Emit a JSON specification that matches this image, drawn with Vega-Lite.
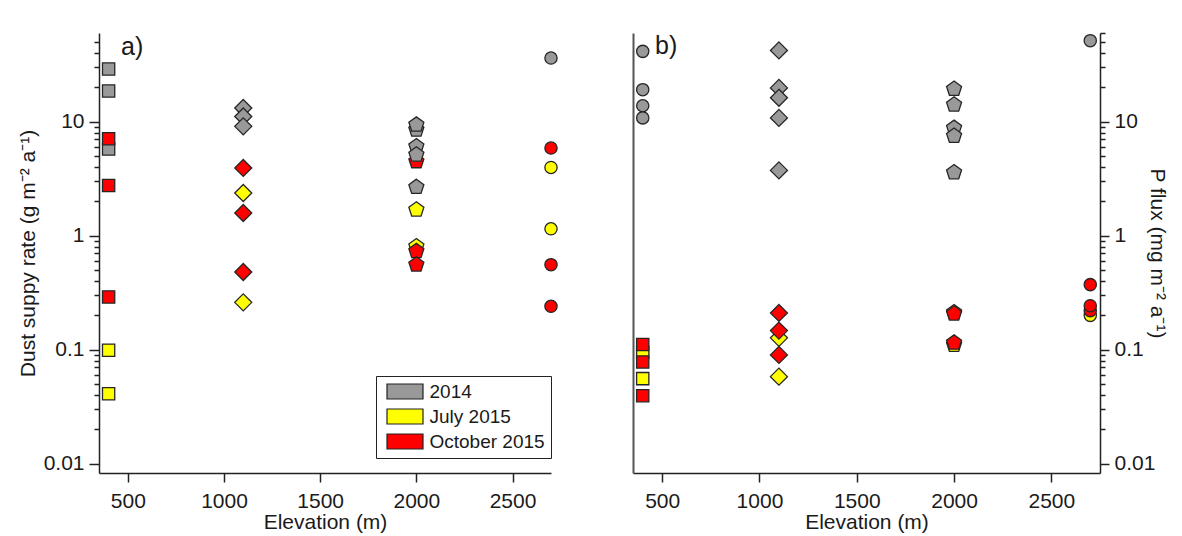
{
  "$schema": "https://vega.github.io/schema/vega-lite/v6.json",
  "padding": {"left": 17, "top": 31, "right": 5, "bottom": 5},
  "background": "white",
  "config": {
    "view": {"stroke": null},
    "font": "Liberation Sans",
    "axis": {
      "grid": false,
      "domainColor": "#222222",
      "domainWidth": 1.5,
      "tickColor": "#222222",
      "tickWidth": 1.5,
      "labelFont": "Liberation Sans",
      "labelFontSize": 21,
      "labelColor": "#1a1a1a",
      "titleFont": "Liberation Sans",
      "titleFontSize": 21,
      "titleFontWeight": "normal",
      "titleColor": "#1a1a1a"
    },
    "legend": {
      "labelFont": "Liberation Sans",
      "labelFontSize": 19,
      "labelColor": "#1a1a1a"
    },
    "title": {"font": "Liberation Sans", "fontWeight": "normal", "color": "#1a1a1a"}
  },
  "datasets": {
    "flux": [
      {"panel": "a", "elevation": 400, "period": "2014", "station": "S1", "value": 29},
      {"panel": "a", "elevation": 400, "period": "2014", "station": "S1", "value": 18.6},
      {"panel": "a", "elevation": 400, "period": "2014", "station": "S1", "value": 5.76},
      {"panel": "a", "elevation": 400, "period": "October 2015", "station": "S1", "value": 7.1},
      {"panel": "a", "elevation": 400, "period": "October 2015", "station": "S1", "value": 2.76},
      {"panel": "a", "elevation": 400, "period": "October 2015", "station": "S1", "value": 0.29},
      {"panel": "a", "elevation": 400, "period": "July 2015", "station": "S1", "value": 0.099},
      {"panel": "a", "elevation": 400, "period": "July 2015", "station": "S1", "value": 0.041},
      {"panel": "a", "elevation": 1100, "period": "2014", "station": "S2", "value": 13.2},
      {"panel": "a", "elevation": 1100, "period": "2014", "station": "S2", "value": 11.1},
      {"panel": "a", "elevation": 1100, "period": "2014", "station": "S2", "value": 9.1},
      {"panel": "a", "elevation": 1100, "period": "July 2015", "station": "S2", "value": 2.37},
      {"panel": "a", "elevation": 1100, "period": "July 2015", "station": "S2", "value": 0.26},
      {"panel": "a", "elevation": 1100, "period": "October 2015", "station": "S2", "value": 3.93},
      {"panel": "a", "elevation": 1100, "period": "October 2015", "station": "S2", "value": 1.58},
      {"panel": "a", "elevation": 1100, "period": "October 2015", "station": "S2", "value": 0.48},
      {"panel": "a", "elevation": 2000, "period": "October 2015", "station": "S3", "value": 4.49},
      {"panel": "a", "elevation": 2000, "period": "2014", "station": "S3", "value": 8.5},
      {"panel": "a", "elevation": 2000, "period": "2014", "station": "S3", "value": 9.4},
      {"panel": "a", "elevation": 2000, "period": "2014", "station": "S3", "value": 6.07},
      {"panel": "a", "elevation": 2000, "period": "2014", "station": "S3", "value": 5.13},
      {"panel": "a", "elevation": 2000, "period": "2014", "station": "S3", "value": 2.67},
      {"panel": "a", "elevation": 2000, "period": "July 2015", "station": "S3", "value": 1.69},
      {"panel": "a", "elevation": 2000, "period": "July 2015", "station": "S3", "value": 0.805},
      {"panel": "a", "elevation": 2000, "period": "October 2015", "station": "S3", "value": 0.73},
      {"panel": "a", "elevation": 2000, "period": "October 2015", "station": "S3", "value": 0.557},
      {"panel": "a", "elevation": 2700, "period": "2014", "station": "S4", "value": 36.2},
      {"panel": "a", "elevation": 2700, "period": "July 2015", "station": "S4", "value": 3.97},
      {"panel": "a", "elevation": 2700, "period": "July 2015", "station": "S4", "value": 1.15},
      {"panel": "a", "elevation": 2700, "period": "October 2015", "station": "S4", "value": 5.87},
      {"panel": "a", "elevation": 2700, "period": "October 2015", "station": "S4", "value": 0.557},
      {"panel": "a", "elevation": 2700, "period": "October 2015", "station": "S4", "value": 0.24},
      {"panel": "b", "elevation": 400, "period": "2014", "station": "S1c", "value": 41.4},
      {"panel": "b", "elevation": 400, "period": "2014", "station": "S1c", "value": 19.1},
      {"panel": "b", "elevation": 400, "period": "2014", "station": "S1c", "value": 13.8},
      {"panel": "b", "elevation": 400, "period": "2014", "station": "S1c", "value": 10.8},
      {"panel": "b", "elevation": 400, "period": "July 2015", "station": "S1", "value": 0.095},
      {"panel": "b", "elevation": 400, "period": "July 2015", "station": "S1", "value": 0.0557},
      {"panel": "b", "elevation": 400, "period": "October 2015", "station": "S1", "value": 0.111},
      {"panel": "b", "elevation": 400, "period": "October 2015", "station": "S1", "value": 0.078},
      {"panel": "b", "elevation": 400, "period": "October 2015", "station": "S1", "value": 0.0395},
      {"panel": "b", "elevation": 1100, "period": "2014", "station": "S2", "value": 42.2},
      {"panel": "b", "elevation": 1100, "period": "2014", "station": "S2", "value": 19.8},
      {"panel": "b", "elevation": 1100, "period": "2014", "station": "S2", "value": 16.2},
      {"panel": "b", "elevation": 1100, "period": "2014", "station": "S2", "value": 10.8},
      {"panel": "b", "elevation": 1100, "period": "2014", "station": "S2", "value": 3.74},
      {"panel": "b", "elevation": 1100, "period": "July 2015", "station": "S2", "value": 0.127},
      {"panel": "b", "elevation": 1100, "period": "July 2015", "station": "S2", "value": 0.058},
      {"panel": "b", "elevation": 1100, "period": "October 2015", "station": "S2", "value": 0.21},
      {"panel": "b", "elevation": 1100, "period": "October 2015", "station": "S2", "value": 0.147},
      {"panel": "b", "elevation": 1100, "period": "October 2015", "station": "S2", "value": 0.09},
      {"panel": "b", "elevation": 2000, "period": "2014", "station": "S3", "value": 19.4},
      {"panel": "b", "elevation": 2000, "period": "2014", "station": "S3", "value": 14.1},
      {"panel": "b", "elevation": 2000, "period": "2014", "station": "S3", "value": 8.8},
      {"panel": "b", "elevation": 2000, "period": "2014", "station": "S3", "value": 7.5},
      {"panel": "b", "elevation": 2000, "period": "2014", "station": "S3", "value": 3.59},
      {"panel": "b", "elevation": 2000, "period": "July 2015", "station": "S3", "value": 0.212},
      {"panel": "b", "elevation": 2000, "period": "July 2015", "station": "S3", "value": 0.11},
      {"panel": "b", "elevation": 2000, "period": "October 2015", "station": "S3", "value": 0.207},
      {"panel": "b", "elevation": 2000, "period": "October 2015", "station": "S3", "value": 0.115},
      {"panel": "b", "elevation": 2700, "period": "2014", "station": "S4", "value": 51.4},
      {"panel": "b", "elevation": 2700, "period": "July 2015", "station": "S4", "value": 0.2},
      {"panel": "b", "elevation": 2700, "period": "October 2015", "station": "S4", "value": 0.22},
      {"panel": "b", "elevation": 2700, "period": "October 2015", "station": "S4", "value": 0.243},
      {"panel": "b", "elevation": 2700, "period": "October 2015", "station": "S4", "value": 0.372}
    ]
  },
  "spacing": 82,
  "bounds": "flush",
  "resolve": {
    "scale": {"color": "independent", "shape": "independent", "x": "independent", "y": "independent"},
    "legend": {"color": "independent", "shape": "independent"}
  },
  "hconcat": [
    {
      "width": 452,
      "height": 440,
      "data": {"name": "flux"},
      "transform": [{"filter": "datum.panel === 'a'"}],
      "title": {"text": "a)", "anchor": "start", "frame": "group", "orient": "top", "fontSize": 25, "dx": 22, "offset": 0, "dy": 47, "baseline": "alphabetic"},
      "mark": {"type": "point", "filled": true, "opacity": 1, "size": 150, "stroke": "#262626", "strokeWidth": 1.3},
      "encoding": {
        "x": {
          "field": "elevation", "type": "quantitative",
          "scale": {"domain": [350, 2700], "nice": false, "zero": false},
          "axis": {"title": "Elevation (m)", "values": [500, 1000, 1500, 2000, 2500], "format": "d", "tickSize": 9, "labelPadding": 8, "titlePadding": 0}
        },
        "y": {
          "field": "value", "type": "quantitative",
          "scale": {"type": "log", "domain": [0.00828, 60], "nice": false},
          "axis": {
            "orient": "left",
            "title": "Dust suppy rate (g m⁻² a⁻¹)",
            "values": [0.01,0.02,0.03,0.04,0.05,0.06,0.07,0.08,0.09,0.1,0.2,0.3,0.4,0.5,0.6,0.7,0.8,0.9,1,2,3,4,5,6,7,8,9,10,20,30,40,50],
            "format": "~g",
            "labelExpr": "indexof([0.01,0.1,1,10], datum.value) >= 0 ? datum.label : ''",
            "tickSize": {"condition": {"test": "indexof([0.01,0.1,1,10], datum.value) >= 0", "value": 10}, "value": 5},
            "labelPadding": 5,
            "titlePadding": 5
          }
        },
        "color": {
          "field": "period", "type": "nominal",
          "scale": {"domain": ["2014", "July 2015", "October 2015"], "range": ["#999999", "#ffff00", "#ff0000"]},
          "legend": {
            "title": null, "orient": "none", "legendX": 277, "legendY": 343,
            "strokeColor": "#222222", "fillColor": "white", "padding": 6,
            "symbolType": "M-2.4,-1H2.4V1H-2.4Z", "symbolSize": 225,
            "symbolStrokeColor": "#222222", "symbolStrokeWidth": 1.2, "symbolOpacity": 1,
            "symbolOffset": 13.5, "labelOffset": 15, "rowPadding": 4
          }
        },
        "shape": {
          "field": "station", "type": "nominal",
          "scale": {"domain": ["S1", "S1c", "S2", "S3", "S4"], "range": ["M-1,-1H1V1H-1Z", "circle", "M0,-1.39L1.39,0L0,1.39L-1.39,0Z", "M0,-1.29L1.227,-0.399L0.758,1.044L-0.758,1.044L-1.227,-0.399Z", "circle"]},
          "legend": null
        }
      }
    },
    {
      "width": 467,
      "height": 440,
      "data": {"name": "flux"},
      "transform": [{"filter": "datum.panel === 'b'"}],
      "title": {"text": "b)", "anchor": "start", "frame": "group", "orient": "top", "fontSize": 25, "dx": 22, "offset": 0, "dy": 47, "baseline": "alphabetic"},
      "resolve": {"axis": {"y": "independent"}},
      "layer": [
        {
          "transform": [{"filter": "false"}],
          "mark": {"type": "point", "opacity": 0},
          "encoding": {
            "x": {"field": "elevation", "type": "quantitative", "scale": {"domain": [350, 2750], "nice": false, "zero": false}},
            "y": {
              "field": "value", "type": "quantitative",
              "scale": {"type": "log", "domain": [0.00828, 60], "nice": false},
              "axis": {"orient": "left", "title": null, "labels": false, "ticks": false, "domainColor": "#555555", "domainWidth": 2}
            }
          }
        },
        {
          "mark": {"type": "point", "filled": true, "opacity": 1, "size": 150, "stroke": "#262626", "strokeWidth": 1.3},
          "encoding": {
            "x": {
              "field": "elevation", "type": "quantitative",
              "scale": {"domain": [350, 2750], "nice": false, "zero": false},
              "axis": {"title": "Elevation (m)", "values": [500, 1000, 1500, 2000, 2500], "format": "d", "tickSize": 9, "labelPadding": 8, "titlePadding": 0}
            },
            "y": {
              "field": "value", "type": "quantitative",
              "scale": {"type": "log", "domain": [0.00828, 60], "nice": false},
              "axis": {
                "orient": "right",
                "title": "P flux (mg m⁻² a⁻¹)",
                "values": [0.01,0.02,0.03,0.04,0.05,0.06,0.07,0.08,0.09,0.1,0.2,0.3,0.4,0.5,0.6,0.7,0.8,0.9,1,2,3,4,5,6,7,8,9,10,20,30,40,50,60],
                "format": "~g",
                "labelExpr": "indexof([0.01,0.1,1,10], datum.value) >= 0 ? datum.label : ''",
                "tickSize": {"condition": {"test": "indexof([0.01,0.1,1,10], datum.value) >= 0", "value": 9}, "value": 5},
                "labelPadding": 5,
                "titlePadding": -8
              }
            },
            "color": {
              "field": "period", "type": "nominal",
              "scale": {"domain": ["2014", "July 2015", "October 2015"], "range": ["#999999", "#ffff00", "#ff0000"]},
              "legend": null
            },
            "shape": {
              "field": "station", "type": "nominal",
              "scale": {"domain": ["S1", "S1c", "S2", "S3", "S4"], "range": ["M-1,-1H1V1H-1Z", "circle", "M0,-1.39L1.39,0L0,1.39L-1.39,0Z", "M0,-1.29L1.227,-0.399L0.758,1.044L-0.758,1.044L-1.227,-0.399Z", "circle"]},
              "legend": null
            }
          }
        }
      ]
    }
  ]
}
